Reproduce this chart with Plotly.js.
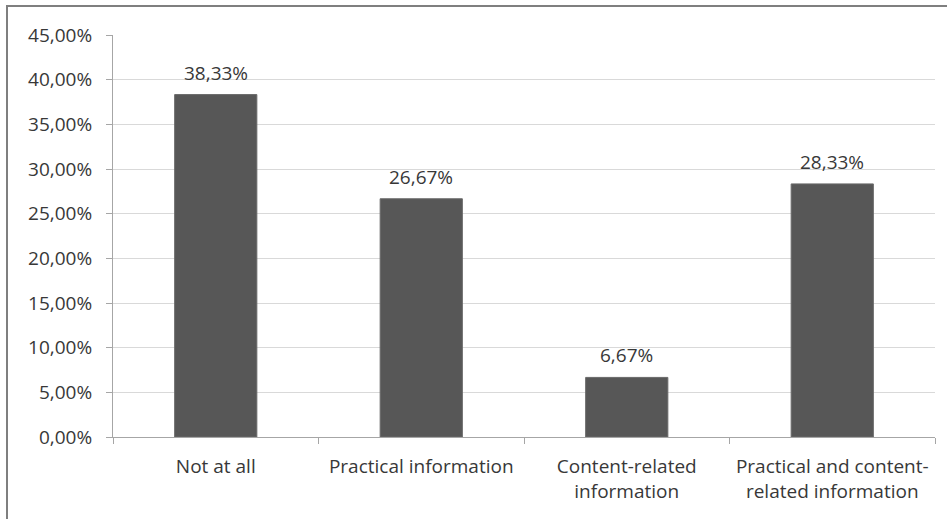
<!DOCTYPE html>
<html>
<head>
<meta charset="utf-8">
<script src="https://cdn.plot.ly/plotly-3.0.1.min.js"></script>
<style>
  html, body { margin: 0; padding: 0; background: #fff; }
  #wrap { position: relative; width: 947px; height: 519px; }
  #chart { position: absolute; left: 0; top: 0; width: 947px; height: 519px; }
  #frame { position: absolute; left: 6px; top: 5px; width: 941px; height: 514px;
           border-top: 2px solid #7f7f7f; border-left: 2px solid #7f7f7f;
           box-sizing: border-box; pointer-events: none; }
</style>
</head>
<body>
<div id="wrap">
  <div id="chart"></div>
  <div id="frame"></div>
</div>
<script>
// How information was received (share of respondents, %)
const categories = [
  "Not at all",
  "Practical information",
  "Content-related<br>information",
  "Practical and content-<br>related information"
];
const shares = [38.33, 26.67, 6.67, 28.33];
const yTicks = [0, 5, 10, 15, 20, 25, 30, 35, 40, 45];

const textColor = "#383838";
const fontFamily = "'Open Sans', 'Liberation Sans', sans-serif";
const fontSize = 19;

// Decimal comma, two decimals, percent sign
const pct = v => v.toFixed(2).replace(".", ",") + "%";

const trace = {
  type: "bar",
  x: categories,
  y: shares,
  marker: { color: "#575757", line: { color: "#6a6a6a", width: 1 } },
  hoverinfo: "skip"
};

// Value labels above each bar
const valueLabels = categories.map((c, i) => ({
  x: c,
  y: shares[i],
  xref: "x",
  yref: "y",
  text: pct(shares[i]),
  showarrow: false,
  yanchor: "bottom",
  yshift: 7,
  font: { family: fontFamily, size: fontSize, color: textColor }
}));

const layout = {
  width: 947,
  height: 519,
  margin: { l: 113, r: 12, t: 35, b: 82 },
  paper_bgcolor: "#ffffff",
  plot_bgcolor: "#ffffff",
  bargap: 0.6,
  showlegend: false,
  font: { family: fontFamily, size: fontSize, color: textColor },
  annotations: valueLabels,
  xaxis: {
    type: "category",
    showgrid: false,
    showline: true,
    linecolor: "#a6a6a6",
    linewidth: 1,
    ticks: "outside",
    tickson: "boundaries",
    ticklen: 6,
    tickcolor: "#a6a6a6",
    ticklabelstandoff: 12,
    tickfont: { family: fontFamily, size: fontSize, color: textColor },
    zeroline: false
  },
  yaxis: {
    range: [0, 45],
    tickvals: yTicks,
    ticktext: yTicks.map(pct),
    showgrid: true,
    gridcolor: "#d9d9d9",
    gridwidth: 1,
    showline: true,
    linecolor: "#a6a6a6",
    linewidth: 1,
    ticks: "outside",
    ticklen: 6,
    tickcolor: "#a6a6a6",
    ticklabelstandoff: 10,
    tickfont: { family: fontFamily, size: fontSize, color: textColor },
    zeroline: false
  }
};

Plotly.newPlot("chart", [trace], layout, { displayModeBar: false, staticPlot: true });
</script>
</body>
</html>
